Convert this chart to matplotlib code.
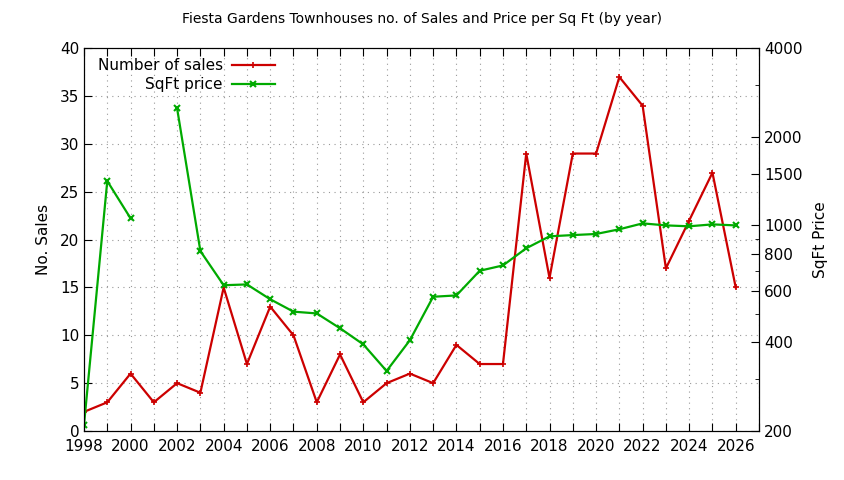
import numpy as np
import matplotlib
matplotlib.use("Agg")
import matplotlib.pyplot as plt
from matplotlib.ticker import FixedLocator, NullFormatter

# datos
anios = list(range(1998, 2027))
ventas = [2, 3, 6, 3, 5, 4, 15, 7, 13, 10, 3, 8, 3, 5, 6, 5, 9, 7, 7,
          29, 16, 29, 29, 37, 34, 17, 22, 27, 15]
precio_sqft = [210, 1415, 1057, np.nan, 2500, 818, 626, 630, 561, 509, 502, 447,
               394, 320, 407, 572, 578, 701, 731, 836, 918, 927, 935, 970, 1016,
               1000, 993, 1008, 1000]

precio_ticks = [200, 400, 600, 800, 1000, 1500, 2000, 4000]
precio_minor = [300, 500, 700, 900, 3000]

rojo = "#cc0000"
verde = "#00aa00"

plt.rcParams['font.family'] = ['DejaVu Sans']
fig = plt.figure(figsize=(8.44, 4.8), dpi=100)
ax = fig.add_axes([84/844, 1-431/480, (759-84)/844, (431-48.3)/480])
ax2 = ax.twinx()

l1, = ax.plot(anios, ventas, color=rojo, lw=1.6, marker='+', ms=4, mew=1.2,
              label="Number of sales")
l2, = ax2.plot(anios, precio_sqft, color=verde, lw=1.6, marker='x', ms=4, mew=1.5,
               label="SqFt price")

ax.set_xlim(1998, 2027)
ax.set_ylim(0, 40)
ax.set_yticks(range(0, 41, 5))
ax.set_xticks(range(1998, 2028))
ax.set_xticklabels([str(a) if a % 2 == 0 and a <= 2026 else "" for a in range(1998, 2028)])
ax.grid(True, color="#999999", ls=(0, (1, 4)), lw=0.8)

ax2.set_yscale('log')
ax2.set_ylim(200, 4000)
ax2.yaxis.set_major_locator(FixedLocator(precio_ticks))
ax2.set_yticklabels([str(t) for t in precio_ticks])
ax2.yaxis.set_minor_locator(FixedLocator(precio_minor))
ax2.yaxis.set_minor_formatter(NullFormatter())

ax.tick_params(axis='both', direction='in', length=6, labelsize=11, top=True, colors='black')
ax.tick_params(axis='x', pad=6)
ax2.tick_params(axis='y', which='major', direction='in', length=6, labelsize=11)
ax2.tick_params(axis='y', which='minor', direction='in', length=3)

ax.set_ylabel("No. Sales", fontsize=11, labelpad=6)
ax2.set_ylabel("SqFt Price", fontsize=11, labelpad=8)
fig.text(0.5, 1-19/480, "Fiesta Gardens Townhouses no. of Sales and Price per Sq Ft (by year)",
         ha='center', va='center', fontsize=10)

leg = ax.legend(handles=[l1, l2], loc='upper left', bbox_to_anchor=(0.0, 1.01),
                frameon=False, markerfirst=False, fontsize=11, handlelength=2.8,
                labelspacing=0.25, handletextpad=0.6)
for t in leg.get_texts():
    t.set_ha('right')
leg._legend_box.align = "right"

fig.savefig("out.png", dpi=100)
